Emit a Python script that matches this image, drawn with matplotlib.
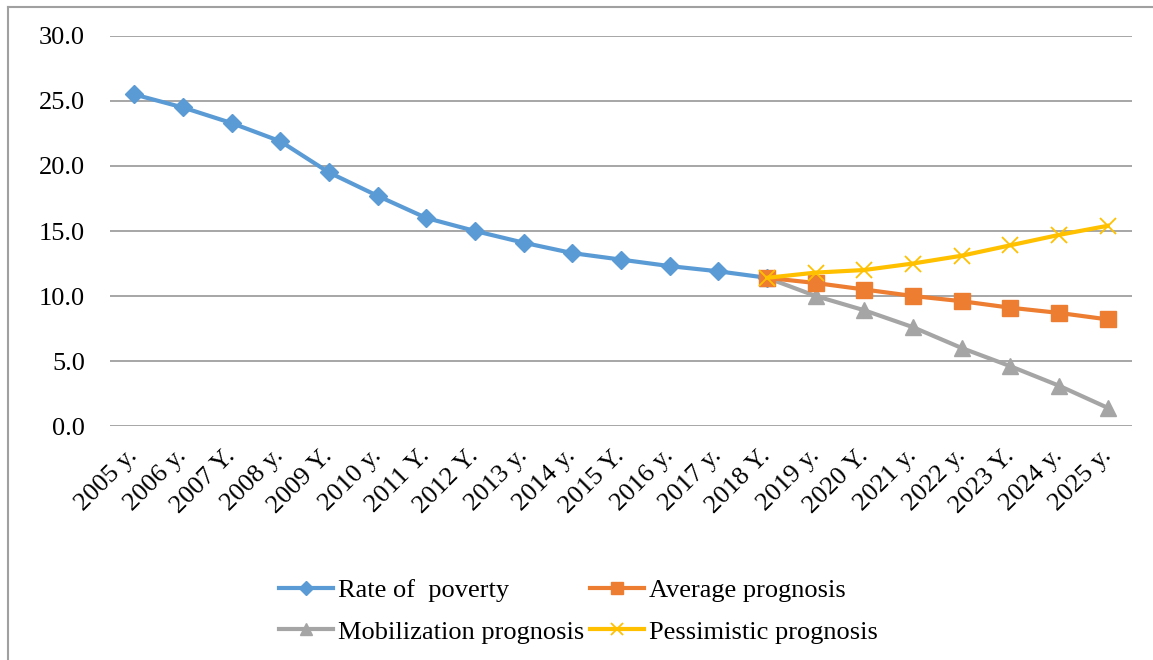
import matplotlib.pyplot as plt
from matplotlib.lines import Line2D

plt.rcParams['font.family'] = ['Liberation Serif', 'DejaVu Serif']

# ------------------------------
# Data
# ------------------------------
years = ['2005 y.', '2006 y.', '2007 Y.', '2008 y.', '2009 Y.', '2010 y.', '2011 Y.',
         '2012 Y.', '2013 y.', '2014 y.', '2015 Y.', '2016 y.', '2017 y.', '2018 Y.',
         '2019 y.', '2020 Y.', '2021 y.', '2022 y.', '2023 Y.', '2024 y.', '2025 y.']

poverty = [25.5, 24.5, 23.3, 21.9, 19.5, 17.7, 16.0, 15.0, 14.1, 13.3, 12.8,
           12.3, 11.9, 11.4]
average = [11.4, 11.0, 10.5, 10.0, 9.6, 9.1, 8.7, 8.2]
mobilization = [11.4, 10.0, 8.9, 7.6, 6.0, 4.6, 3.1, 1.4]
pessimistic = [11.4, 11.8, 12.0, 12.5, 13.1, 13.9, 14.7, 15.4]

x_all = list(range(len(years)))
x_hist = x_all[:len(poverty)]
x_prog = x_all[len(poverty) - 1:]

fig = plt.figure(figsize=(11.53, 6.6), dpi=100)
ax = fig.add_axes([0.0954, 0.3545, 0.8864, 0.591])

l1, = ax.plot(x_hist, poverty, color='#5B9BD5', lw=3, marker='D', ms=9,
              label='Rate of  poverty')
l2, = ax.plot(x_prog, average, color='#ED7D31', lw=3, marker='s', ms=11,
              label='Average prognosis', zorder=3)
l3, = ax.plot(x_prog, mobilization, color='#A5A5A5', lw=3, marker='^', ms=11,
              label='Mobilization prognosis', zorder=2)
l4, = ax.plot(x_prog, pessimistic, color='#FFC000', lw=3, marker='x', ms=12, mew=1.3,
              label='Pessimistic prognosis', zorder=4)

ax.set_xlim(-0.5, 20.5)
ax.set_ylim(0, 30)
yt = [0, 5, 10, 15, 20, 25, 30]
ax.set_yticks(yt)
ax.set_yticklabels([f'{v:.1f}' for v in yt], fontsize=19)
ax.set_xticks(x_all)
ax.set_xticklabels(years, rotation=45, ha='right', va='center',
                   rotation_mode='anchor', fontsize=19)
ax.tick_params(axis='both', length=0)
ax.tick_params(axis='y', pad=18)
ax.tick_params(axis='x', pad=19)
ax.grid(axis='y', color='#A6A6A6', lw=1.4)
ax.set_axisbelow(True)
for s in ax.spines.values():
    s.set_visible(False)

# row-wise legend: Rate / Average, Mobilization / Pessimistic
fig.legend([l1, l3, l2, l4],
           [l1.get_label(), l3.get_label(), l2.get_label(), l4.get_label()],
           loc='center left', bbox_to_anchor=(279 / 1153, 1 - 611 / 660), ncol=2,
           frameon=False, fontsize=19, handlelength=2.05, handletextpad=0.2,
           columnspacing=0.2, labelspacing=0.7, borderpad=0, borderaxespad=0,
           markerscale=0.75)

# frame of the original chart box (only top and left visible)
fig.add_artist(Line2D([8 / 1153, 1.0], [1 - 7 / 660, 1 - 7 / 660],
                      transform=fig.transFigure, color='#A0A0A0', lw=1.5))
fig.add_artist(Line2D([8 / 1153, 8 / 1153], [0, 1 - 7 / 660],
                      transform=fig.transFigure, color='#A0A0A0', lw=1.5))

fig.savefig('out.png', dpi=100)
